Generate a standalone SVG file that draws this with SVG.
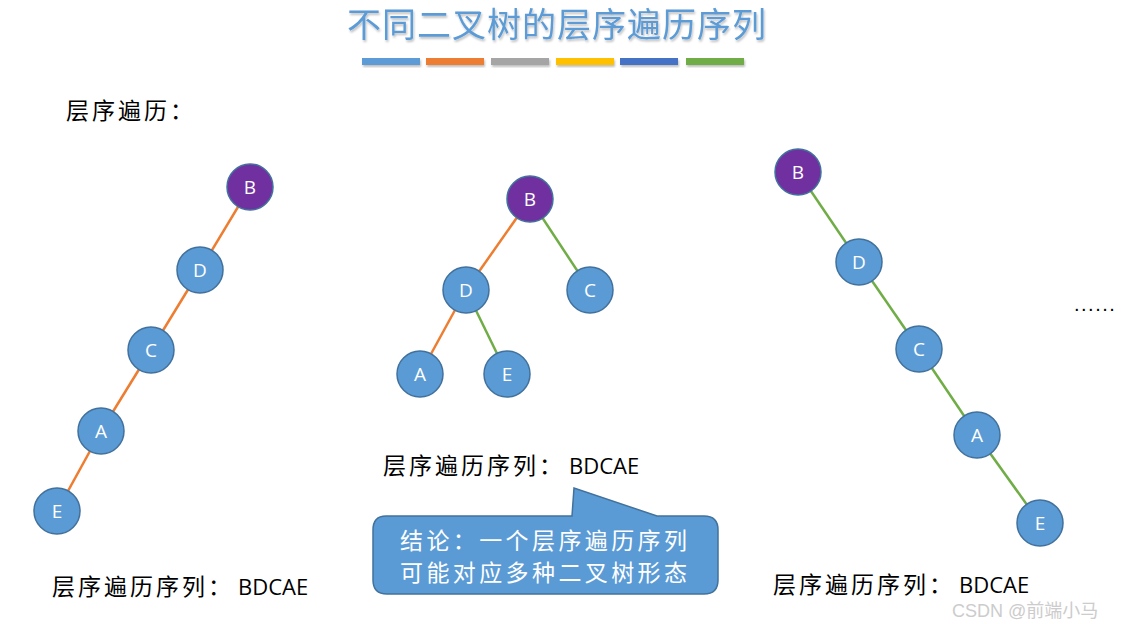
<svg xmlns="http://www.w3.org/2000/svg" width="1125" height="624" viewBox="0 0 1125 624">
<defs>
<filter id="sh" x="-10%" y="-10%" width="130%" height="150%"><feDropShadow dx="1" dy="2" stdDeviation="1.2" flood-color="#000" flood-opacity="0.25"/></filter>
</defs>
<style>
.n{fill:#5b9bd5;stroke:#41719c;stroke-width:1.5}
.p{fill:#7030a0;stroke:#41719c;stroke-width:1.5}
.nt{font-family:"Open Sans","Liberation Sans",sans-serif;font-size:19px;fill:#fff;text-anchor:middle}
.o{stroke:#ed7d31;stroke-width:2.5}
.g{stroke:#70ad47;stroke-width:2.5}
.t{font-family:"Noto Sans CJK SC",sans-serif;font-size:23px;fill:#000;letter-spacing:3px}
.lat{font-family:"Open Sans","Liberation Sans",sans-serif;font-size:22px;letter-spacing:0}
</style>
<rect width="1125" height="624" fill="#fff"/>
<g id="title">
<text x="557" y="37" text-anchor="middle" font-family="'Noto Sans CJK SC',sans-serif" font-size="34" letter-spacing="1" fill="#5b9bd5" filter="url(#sh)">不同二叉树的层序遍历序列</text>
<g filter="url(#sh)">
<rect x="362" y="58" width="58" height="7" fill="#5b9bd5"/>
<rect x="426" y="58" width="58" height="7" fill="#ed7d31"/>
<rect x="491" y="58" width="58" height="7" fill="#a5a5a5"/>
<rect x="556" y="58" width="58" height="7" fill="#ffc000"/>
<rect x="620" y="58" width="58" height="7" fill="#4472c4"/>
<rect x="686" y="58" width="58" height="7" fill="#70ad47"/>
</g>
</g>
<text x="66" y="119" class="t" letter-spacing="1">层序遍历：</text>
<g id="connectors">
<line class="o" x1="250" y1="187" x2="200" y2="270"/>
<line class="o" x1="200" y1="270" x2="151" y2="350"/>
<line class="o" x1="151" y1="350" x2="101" y2="431"/>
<line class="o" x1="101" y1="431" x2="57" y2="511"/>
<line class="o" x1="530" y1="199" x2="466" y2="290"/>
<line class="g" x1="530" y1="199" x2="590" y2="290"/>
<line class="o" x1="466" y1="290" x2="420" y2="374"/>
<line class="g" x1="466" y1="290" x2="507" y2="374"/>
<line class="g" x1="798" y1="172" x2="859" y2="262"/>
<line class="g" x1="859" y1="262" x2="919" y2="349"/>
<line class="g" x1="919" y1="349" x2="977" y2="435"/>
<line class="g" x1="977" y1="435" x2="1040" y2="523"/>
</g>
<g id="L_B"><circle class="p" cx="250" cy="187" r="23"/><text class="nt" x="250" y="194">B</text></g>
<g id="L_D"><circle class="n" cx="200" cy="270" r="23"/><text class="nt" x="200" y="277">D</text></g>
<g id="L_C"><circle class="n" cx="151" cy="350" r="23"/><text class="nt" x="151" y="357">C</text></g>
<g id="L_A"><circle class="n" cx="101" cy="431" r="23"/><text class="nt" x="101" y="438">A</text></g>
<g id="L_E"><circle class="n" cx="57" cy="511" r="23"/><text class="nt" x="57" y="518">E</text></g>
<g id="M_B"><circle class="p" cx="530" cy="199" r="23"/><text class="nt" x="530" y="206">B</text></g>
<g id="M_D"><circle class="n" cx="466" cy="290" r="23"/><text class="nt" x="466" y="297">D</text></g>
<g id="M_C"><circle class="n" cx="590" cy="290" r="23"/><text class="nt" x="590" y="297">C</text></g>
<g id="M_A"><circle class="n" cx="420" cy="374" r="23"/><text class="nt" x="420" y="381">A</text></g>
<g id="M_E"><circle class="n" cx="507" cy="374" r="23"/><text class="nt" x="507" y="381">E</text></g>
<g id="R_B"><circle class="p" cx="798" cy="172" r="23"/><text class="nt" x="798" y="179">B</text></g>
<g id="R_D"><circle class="n" cx="859" cy="262" r="23"/><text class="nt" x="859" y="269">D</text></g>
<g id="R_C"><circle class="n" cx="919" cy="349" r="23"/><text class="nt" x="919" y="356">C</text></g>
<g id="R_A"><circle class="n" cx="977" cy="435" r="23"/><text class="nt" x="977" y="442">A</text></g>
<g id="R_E"><circle class="n" cx="1040" cy="523" r="23"/><text class="nt" x="1040" y="530">E</text></g>
<text x="52" y="595" class="t">层序遍历序列：<tspan class="lat" x="238">BDCAE</tspan></text>
<text x="383" y="474" class="t">层序遍历序列：<tspan class="lat" x="569">BDCAE</tspan></text>
<text x="773" y="593" class="t">层序遍历序列：<tspan class="lat" x="959">BDCAE</tspan></text>
<text x="1074" y="311" font-family="'Liberation Sans',sans-serif" font-size="20" letter-spacing="1.5" fill="#000">......</text>
<g id="callout">
<path d="M386,516 H572 L574,488 L657,516 H704 Q718,516 718,530 V580 Q718,594 704,594 H387 Q373,594 373,580 V530 Q373,516 386,516 Z" fill="#5b9bd5" stroke="#41719c" stroke-width="1.5"/>
<text x="400" y="549" font-family="'Noto Sans CJK SC',sans-serif" font-size="23" letter-spacing="3.4" fill="#fff">结论：一个层序遍历序列</text>
<text x="400" y="581" font-family="'Noto Sans CJK SC',sans-serif" font-size="23" letter-spacing="3.4" fill="#fff">可能对应多种二叉树形态</text>
</g>
<text x="952" y="617" font-family="'Liberation Sans','Noto Sans CJK SC',sans-serif" font-size="18" fill="#cccccc">CSDN @前端小马</text>
</svg>
